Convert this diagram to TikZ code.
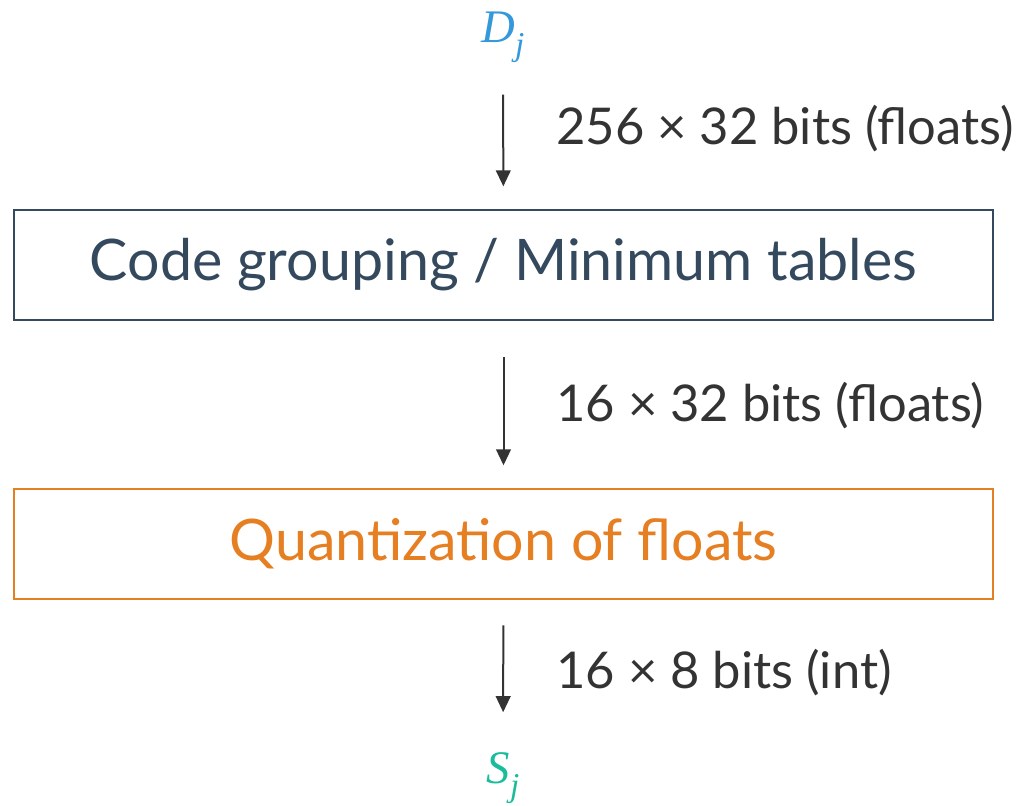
\documentclass[tikz,border=0pt]{standalone}
\usepackage{fontspec}
\setmainfont{Lato}
\newfontfamily\mathletters{Liberation Serif}
\usetikzlibrary{arrows.meta}
\definecolor{cdark}{RGB}{52,73,94}
\definecolor{corange}{RGB}{230,126,34}
\definecolor{cblue}{RGB}{52,152,219}
\definecolor{cteal}{RGB}{26,188,156}
\definecolor{cgray}{RGB}{51,51,51}
\newcommand{\subvar}[2]{{\mathletters\itshape #1\raisebox{-0.28em}{\fontsize{25}{28}\selectfont #2}}}
\tikzset{pipe/.style={x=0.75pt,y=-0.75pt},
  stagebox/.style={draw,line width=1.5pt,minimum width=734pt,minimum height=82.5pt,
    inner sep=0pt,font=\fontsize{43}{50}\selectfont},
  flowarrow/.style={cgray,line width=1.5pt,-{Triangle[length=12pt,width=11pt]},
    shorten <=24pt,shorten >=17pt},
  sizelabel/.style={anchor=west,cgray,inner sep=0pt,font=\fontsize{38}{44}\selectfont},
  endpoint/.style={inner sep=0pt,font=\fontsize{35}{40}\selectfont}}

\begin{document}
\begin{tikzpicture}[pipe]
    \useasboundingbox (0,0) rectangle (1024,806);
    \node[endpoint,cblue] (Dj) at (503,37) {\subvar{D}{j}};
    \node[stagebox,cdark] (grouping) at (503.5,265) {Code grouping / Minimum tables};
    \node[stagebox,corange] (quant) at (503.5,544) {Quantization of floats};
    \node[endpoint,cteal] (Sj) at (503,778) {\subvar{S}{j}};
    \draw[flowarrow] (Dj) -- (grouping);
    \draw[flowarrow,shorten <=27pt] (grouping) -- (quant);
    \draw[flowarrow,shorten <=19pt,shorten >=30pt] (quant) -- (Sj);
    \node[sizelabel] (lab1) at (556,129) {256 × 32 bits (floats)};
    \node[sizelabel] (lab2) at (556,406) {16 × 32 bits (floats)};
    \node[sizelabel] (lab3) at (556,673) {16 × 8 bits (int)};
\end{tikzpicture}
\end{document}
